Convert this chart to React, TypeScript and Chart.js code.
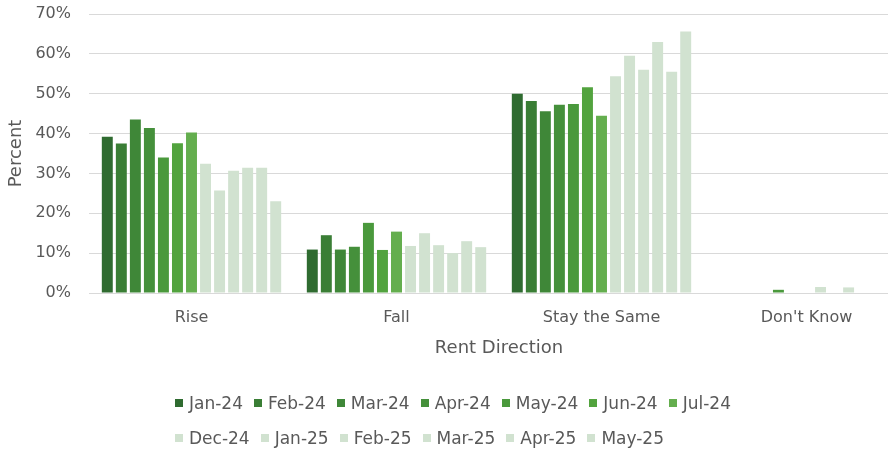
import React, { useEffect, useRef } from "react";
import { Chart, registerables } from "chart.js";

Chart.register(...registerables);

const categories = ["Rise", "Fall", "Stay the Same", "Don't Know"];
const seriesLabels = [
  "Jan-24", "Feb-24", "Mar-24", "Apr-24", "May-24", "Jun-24", "Jul-24",
  "Dec-24", "Jan-25", "Feb-25", "Mar-25", "Apr-25", "May-25",
];
const seriesColors = [
  "#2f6b30", "#3a7e35", "#3f8738", "#45903b", "#4a993c", "#52a33e", "#64ae4e",
  "#d1e2d0", "#d1e2d0", "#d1e2d0", "#d1e2d0", "#d1e2d0", "#d1e2d0",
];
const rise = [39.2, 37.5, 43.5, 41.4, 34.0, 37.6, 40.3, 32.4, 25.7, 30.7, 31.4, 31.4, 23.0];
const fall = [10.9, 14.5, 10.9, 11.6, 17.6, 10.8, 15.4, 11.8, 15.0, 12.0, 10.0, 13.0, 11.5];
const stay = [50.0, 48.2, 45.6, 47.2, 47.4, 51.6, 44.5, 54.4, 59.5, 56.0, 63.0, 55.5, 65.6];
const dontKnow = [0, 0, 0, 0, 0.8, 0, 0, 1.5, 0, 1.4, 0, 0, 0];
const yMin = 0;
const yMax = 70;
const yStep = 10;
const legendRows = [seriesLabels.slice(0, 7), seriesLabels.slice(7)];

const FONT = "'DejaVu Sans', sans-serif";
const TEXT = "#595959";

export default function App() {
  const ref = useRef<HTMLCanvasElement | null>(null);

  useEffect(() => {
    const canvas = ref.current;
    if (!canvas) return;
    const chart = new Chart(canvas, {
      type: "bar",
      data: {
        labels: categories,
        datasets: seriesLabels.map((label, i) => ({
          label,
          data: [rise[i], fall[i], stay[i], dontKnow[i]],
          backgroundColor: seriesColors[i],
          borderWidth: 0,
          categoryPercentage: 0.89,
          barPercentage: 0.78,
        })),
      },
      options: {
        responsive: false,
        animation: false,
        devicePixelRatio: 1,
        layout: { padding: { top: 14, right: 21, left: 0, bottom: 0 } },
        plugins: {
          legend: { display: false },
          tooltip: { enabled: false },
        },
        scales: {
          x: {
            grid: { display: false, drawTicks: false },
            border: { display: false },
            ticks: {
              color: TEXT,
              font: { family: FONT, size: 16 },
              padding: 15,
              maxRotation: 0,
            },
            title: {
              display: true,
              text: "Rent Direction",
              color: TEXT,
              font: { family: FONT, size: 18 },
              padding: { top: 0, bottom: 96 },
            },
            afterFit: (scale: any) => {
              scale.height = 162;
              scale.paddingLeft = 0;
              scale.paddingRight = 0;
            },
          },
          y: {
            min: yMin,
            max: yMax,
            grid: { color: "#d9d9d9", lineWidth: 1, drawTicks: false },
            border: { display: false },
            ticks: {
              stepSize: yStep,
              color: TEXT,
              font: { family: FONT, size: 16 },
              padding: 18,
              callback: (v: any) => v + "%",
            },
            title: {
              display: true,
              text: "Percent",
              color: TEXT,
              font: { family: FONT, size: 18 },
              padding: { top: 6, bottom: 0 },
            },
            afterFit: (scale: any) => {
              scale.width = 89;
              scale.paddingTop = 0;
              scale.paddingBottom = 0;
            },
          },
        },
      },
    });
    return () => chart.destroy();
  }, []);

  return (
    <div
      style={{
        position: "fixed",
        left: 0,
        top: 0,
        width: 888,
        height: 455,
        overflow: "hidden",
        background: "#fff",
      }}
    >
      <canvas
        ref={ref}
        width={930}
        height={455}
        style={{ position: "absolute", left: 0, top: 0, width: 930, height: 455 }}
      />
      <div style={{ position: "absolute", left: 175, top: 392, fontFamily: FONT, fontSize: 17, color: TEXT }}>
        {legendRows.map((row, r) => (
          <div key={r} style={{ display: "flex", alignItems: "center", height: 22, marginBottom: r === 0 ? 13 : 0 }}>
            {row.map((label) => {
              const idx = seriesLabels.indexOf(label);
              return (
                <div key={label} style={{ display: "flex", alignItems: "center", marginRight: 11, whiteSpace: "nowrap" }}>
                  <span
                    style={{
                      display: "inline-block",
                      width: 8,
                      height: 8,
                      background: seriesColors[idx],
                      marginRight: 6,
                    }}
                  />
                  <span>{label}</span>
                </div>
              );
            })}
          </div>
        ))}
      </div>
    </div>
  );
}
